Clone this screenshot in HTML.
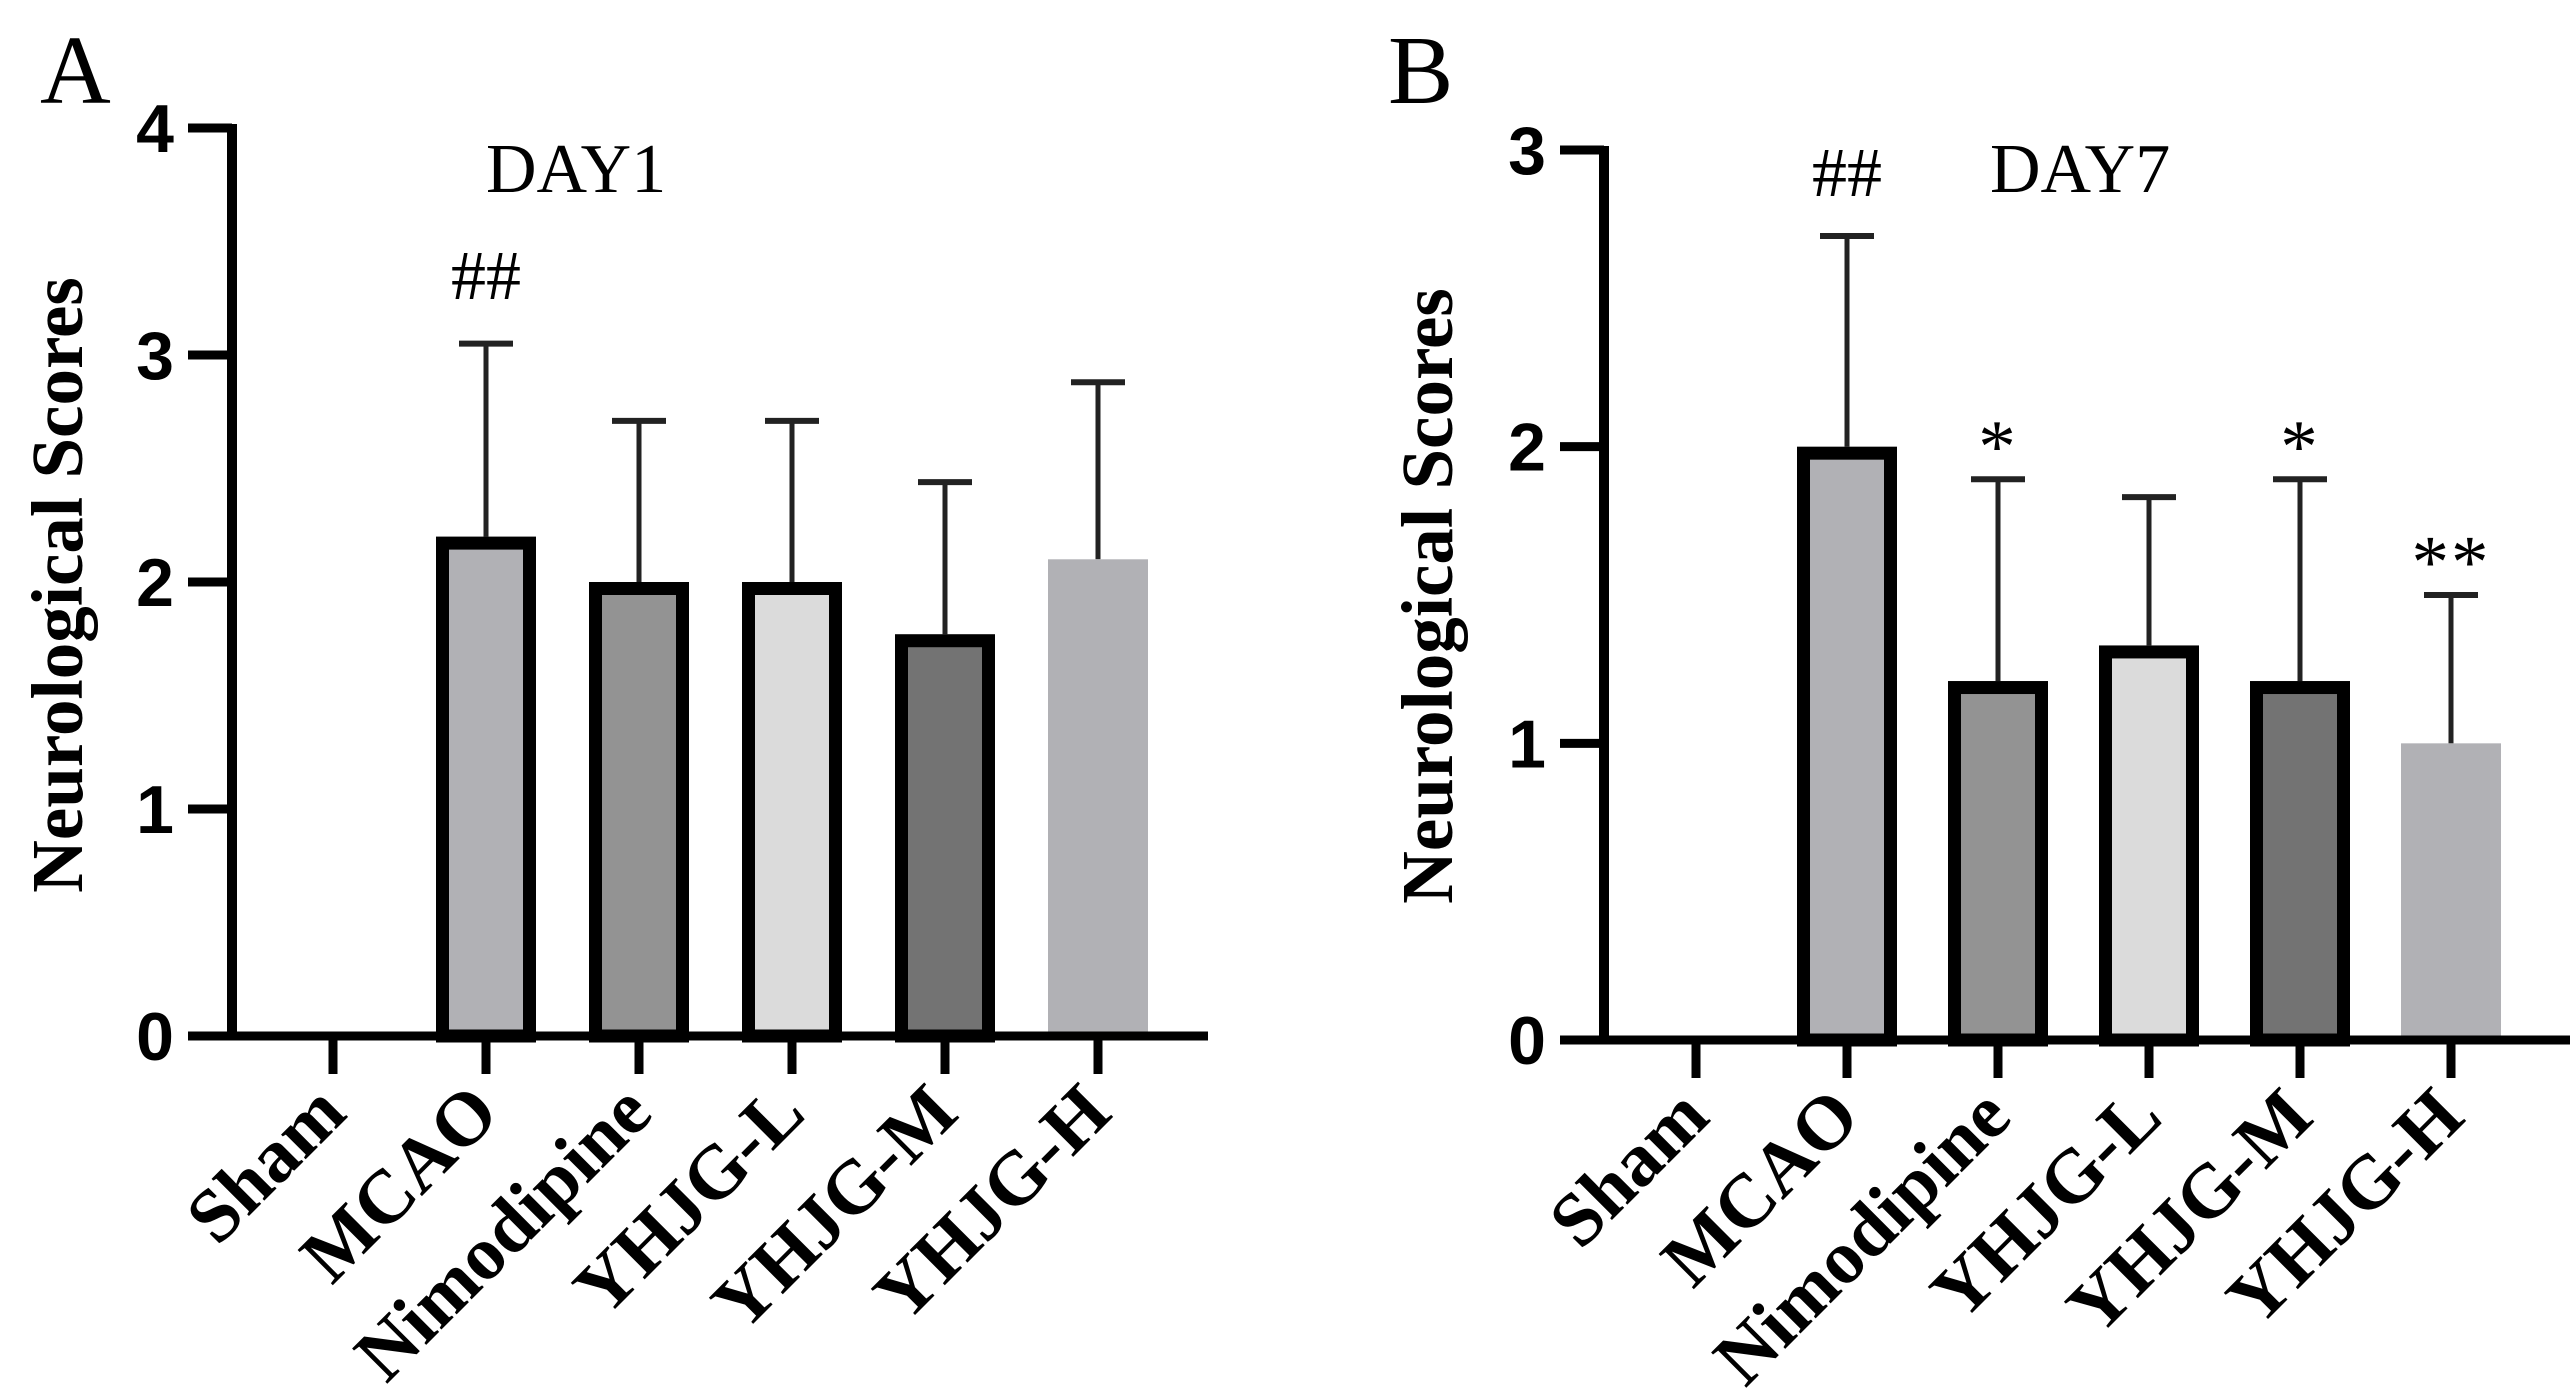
<!DOCTYPE html>
<html><head><meta charset="utf-8"><style>
html,body{margin:0;padding:0;background:#fff;}
svg{display:block;}
</style></head><body>
<svg id="chart" xmlns="http://www.w3.org/2000/svg" width="2576" height="1398" viewBox="0 0 2576 1398">
<rect width="2576" height="1398" fill="#fff"/>
</svg>
<script>
const categories = ["Sham","MCAO","Nimodipine","YHJG-L","YHJG-M","YHJG-H"];
const day1Values = [0, 2.20, 2.00, 2.00, 1.77, 2.10];
const day1Errors = [0, 0.85, 0.71, 0.71, 0.67, 0.78];
const day7Values = [0, 2.00, 1.21, 1.33, 1.21, 1.00];
const day7Errors = [0, 0.71, 0.68, 0.50, 0.68, 0.50];
const day1Ticks = [0,1,2,3,4];
const day7Ticks = [0,1,2,3];
const day1Marks = ["", "##", "", "", "", ""];
const day7Marks = ["", "##", "*", "", "*", "**"];
const fills = ["#ffffff","#b1b1b5","#939393","#dbdbdb","#737373","#b1b1b5"];
const borders = [true,true,true,true,true,false];

const NS="http://www.w3.org/2000/svg";
const svg=document.getElementById('chart');
function mk(tag,attrs,parent){const e=document.createElementNS(NS,tag);for(const k in attrs)e.setAttribute(k,attrs[k]);(parent||svg).appendChild(e);return e;}

function panel(cfg){
  const g=mk('g',{});
  
  
  const yScale=v=>cfg.y0-(v/cfg.yMax)*(cfg.y0-cfg.yTop);
  const xScale=i=>cfg.x0+i*cfg.step;
  const L=mk('text',{x:cfg.letterX,y:103,'font-family':'Liberation Serif, serif','font-size':98,fill:'#000'},g);
  L.textContent=cfg.letter;
  
  
  const T=mk('text',{x:cfg.titleX,y:192,'font-family':'Liberation Serif, serif','font-size':70,fill:'#000'},g);
  T.textContent=cfg.title;
  
  
  const YT=mk('text',{x:0,y:0,'font-family':'Liberation Serif, serif','font-size':73,'font-weight':'bold','text-anchor':'middle',transform:`translate(${cfg.ytX},${cfg.ytY}) rotate(-90)`,fill:'#000'},g);
  YT.textContent='Neurological Scores';
  
  
  cfg.values.forEach((v,i)=>{
    const cx=xScale(i), w=100, top=yScale(v);
    if(v>0){
      const err=cfg.errors[i], et=yScale(v+err);
      const el=mk('line',{x1:cx,x2:cx,y1:top,y2:et,stroke:'#222','stroke-width':5},g);
      
      
      const cap=mk('line',{x1:cx-27,x2:cx+27,y1:et,y2:et,stroke:'#222','stroke-width':6},g);
      
      
      let r;
      if(borders[i]){
        r=mk('rect',{x:cx-w/2+6.5,y:top+6.5,width:w-13,height:cfg.y0-top-6.5,fill:fills[i],stroke:'#000','stroke-width':13},g);
      } else {
        r=mk('rect',{x:cx-w/2,y:top,width:w,height:cfg.y0-top,fill:fills[i]},g);
      }
      
      
      if(cfg.marks[i]){
        const isHash=cfg.marks[i]==='##';
        const m=mk('text',{x:cx,y:isHash?cfg.hashY:et-8,'font-family':'Liberation Serif, serif','font-size':isHash?70:75,'text-anchor':'middle','letter-spacing':isHash?0:2,fill:'#000'},g);
        m.textContent=cfg.marks[i];
        
        
      }
    }
    const t=mk('line',{x1:cx,x2:cx,y1:cfg.y0,y2:cfg.y0+38,stroke:'#000','stroke-width':9},g);
    
    
    const lb=mk('text',{x:0,y:0,'font-family':'Liberation Serif, serif','font-size':76,'font-weight':'bold','text-anchor':'end',transform:`translate(${cx+16},${cfg.y0+80}) rotate(-45)`,fill:'#000'},g);
    lb.textContent=categories[i];
    
    
  });
  const ya=mk('line',{x1:cfg.axisX,x2:cfg.axisX,y1:cfg.yTop-4,y2:cfg.y0+4,stroke:'#000','stroke-width':10},g);
  
  
  const xa=mk('line',{x1:cfg.xStart,x2:cfg.xEnd,y1:cfg.y0,y2:cfg.y0,stroke:'#000','stroke-width':9},g);
  
  
  cfg.ticks.forEach(tv=>{
    const y=yScale(tv);
    const tl=mk('line',{x1:cfg.axisX-44,x2:cfg.axisX,y1:y,y2:y,stroke:'#000','stroke-width':9},g);
    
    
    const tx=mk('text',{x:cfg.axisX-58,y:y+24,'font-family':'Liberation Sans, sans-serif','font-size':68,'font-weight':'bold','text-anchor':'end',fill:'#000'},g);
    tx.textContent=tv;
    
    
  });
}

panel({name:'panel-a-day1',letter:'A',letterX:40,title:'DAY1',titleX:486,ytX:82,ytY:585,
  values:day1Values,errors:day1Errors,marks:day1Marks,ticks:day1Ticks,yMax:4,
  y0:1036,yTop:128,x0:333,step:153,axisX:232,xStart:190,xEnd:1208,hashY:299});
panel({name:'panel-b-day7',letter:'B',letterX:1388,title:'DAY7',titleX:1990,ytX:1452,ytY:596,
  values:day7Values,errors:day7Errors,marks:day7Marks,ticks:day7Ticks,yMax:3,
  y0:1040,yTop:150,x0:1696,step:151,axisX:1604,xStart:1565,xEnd:2570,hashY:196});
</script>
</body></html>
